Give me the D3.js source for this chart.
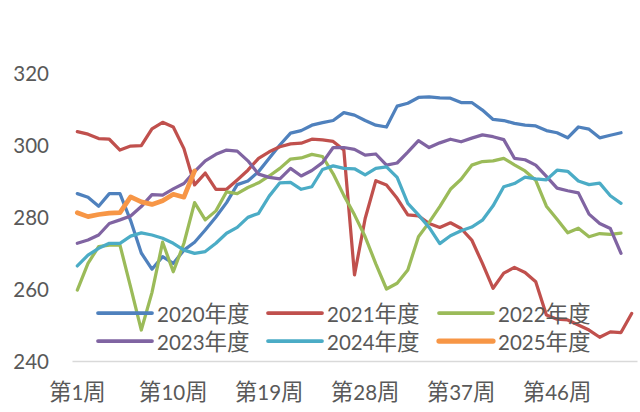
<!DOCTYPE html>
<html>
<head>
<meta charset="utf-8">
<script src="https://cdn.jsdelivr.net/npm/d3@7/dist/d3.min.js"></script>
<style>
  html, body { margin: 0; padding: 0; background: #ffffff; }
  svg { display: block; }
</style>
</head>
<body>
<svg id="chart" width="640" height="412"></svg>
<script>
// Weekly categories 第1周 … 第53周
const weeks = d3.range(1, 54);
const tickWeeks = [1, 10, 19, 28, 37, 46];
const tickLabels = ["第1周", "第10周", "第19周", "第28周", "第37周", "第46周"];
const yTicks = [240, 260, 280, 300, 320];

const seriesNames = ["2020年度", "2021年度", "2022年度", "2023年度", "2024年度", "2025年度"];
const seriesColors = ["#4F81BD", "#C0504D", "#9BBB59", "#8064A2", "#4BACC6", "#F79646"];

const v2020 = [286.5, 285.5, 283, 286.5, 286.5, 279, 270, 265.5, 269, 267.1,
  270.8, 273, 276.4, 280, 284, 289, 290, 292.6, 296.3, 300,
  303.3, 304, 305.5, 306.2, 306.8, 309, 308.3, 306.8, 305.5, 305,
  310.8, 311.6, 313.2, 313.4, 313.1, 313, 311.8, 311.8, 309.7, 307.1,
  306.8, 306, 305.5, 305.3, 304, 303.4, 302, 305, 304.4, 302,
  302.7, 303.4];
const v2021 = [303.7, 303, 301.8, 301.6, 298.6, 299.7, 299.8, 304.5, 306.3, 305,
  299, 288.9, 292.2, 287.7, 287.7, 290.3, 293, 296.3, 298.1, 299.5,
  300.3, 300.5, 301.6, 301.4, 301, 298.6, 263.9, 279.6, 290.1, 288.9,
  285.2, 280.6, 280.3, 278.2, 277.1, 278.4, 276.8, 273.6, 267.1, 260.2,
  264.4, 266, 264.6, 262, 252.8, 251.6, 251.4, 250, 248.6, 246.6,
  248.1, 247.9, 253.2];
const v2022 = [259.7, 267.1, 271.8, 272.2, 272.2, 260.5, 248.6, 259, 273, 264.8,
  272.7, 284, 279.2, 281.7, 287, 286.5, 288.2, 289.5, 291.4, 293.5,
  296.1, 296.4, 297.4, 296.8, 292, 286, 280.6, 274.5, 267, 260,
  261.6, 265.3, 274.5, 278.5, 282.9, 287.7, 290.5, 294.4, 295.4, 295.6,
  296.3, 294.5, 292.8, 290.2, 283, 279.4, 275.6, 276.9, 274.5, 275.4,
  275.2, 275.5];
const v2023 = [272.7, 273.6, 275, 278.2, 279.2, 280.3, 282.9, 286.2, 286.1, 287.8,
  289.3, 292.6, 295.6, 297.4, 298.6, 298.3, 295.6, 291.9, 291, 290.6,
  293.5, 291.4, 292.9, 295.1, 299.3, 299.3, 298.8, 297.2, 297.5, 294.4,
  295, 298, 301.2, 299.3, 300.6, 301.6, 300.9, 301.9, 302.8, 302.3,
  301.5, 296.3, 295.9, 294.4, 291.3, 288, 287.3, 286.7, 280.8, 278.2,
  276.8, 269.9];
const v2024 = [266.4, 269.4, 271.3, 272.7, 272.7, 274.7, 275.6, 275, 274.1, 272.7,
  270.8, 269.9, 270.4, 272.7, 275.5, 277.1, 279.9, 281, 285.8, 289.5,
  289.6, 287.7, 288.4, 293.2, 294.2, 293.5, 293.4, 291.7, 293.5, 293.9,
  291, 283.8, 280.6, 277.1, 272.6, 274.8, 276.2, 277.2, 279.1, 283.1,
  288.4, 289.3, 291.1, 290.6, 290.3, 293, 292.7, 290, 289, 289.4,
  285.9, 283.8];
const v2025 = [281.2, 280.1, 280.7, 281.1, 281.2, 285.6, 284.2, 283.5, 284.5, 286.3,
  285.5, 292.8];

const seriesValues = [v2020, v2021, v2022, v2023, v2024, v2025];
const seriesWidths = [3.25, 3.25, 3.25, 3.25, 3.25, 4.75];

const svg = d3.select("#chart");
const plot = { left: 72, right: 637, top: 73, bottom: 361 };

const x = d3.scaleBand().domain(weeks).range([plot.left, plot.right]).paddingInner(0).paddingOuter(0);
const y = d3.scaleLinear().domain([240, 320]).range([plot.bottom, plot.top]);
const cx = w => x(w) + x.bandwidth() / 2;

const textColor = "#595959";
const latinFont = "Lato, 'Liberation Sans', sans-serif";
const cjkFont = "'Noto Sans CJK SC', 'Noto Sans', sans-serif";

// Split a label into Latin and CJK runs so each uses its own face and size
function mixedText(sel, latinSize, cjkSize) {
  sel.each(function () {
    const t = d3.select(this);
    const s = t.text();
    t.text(null);
    (s.match(/[\u3000-\u9fff]+|[^\u3000-\u9fff]+/g) || []).forEach(run => {
      const isCjk = /[\u3000-\u9fff]/.test(run);
      t.append("tspan")
        .attr("font-family", isCjk ? cjkFont : latinFont)
        .attr("font-size", isCjk ? cjkSize : latinSize)
        .text(run);
    });
  });
}

// Y axis: labels only
const yAxis = svg.append("g")
  .attr("transform", `translate(${plot.left},0)`)
  .call(d3.axisLeft(y).tickValues(yTicks).tickSize(0).tickPadding(23).tickFormat(d3.format("d")));
yAxis.select(".domain").remove();
yAxis.selectAll("text")
  .attr("fill", textColor)
  .attr("font-family", latinFont)
  .attr("font-size", 20.5)
  .attr("dy", null)
  .attr("y", 7.5);

// X axis: baseline plus week labels
const xAxis = svg.append("g")
  .attr("transform", `translate(0,${plot.bottom})`)
  .call(d3.axisBottom(x).tickValues(tickWeeks).tickSize(0).tickSizeOuter(0)
    .tickFormat((d, i) => tickLabels[i]));
xAxis.select(".domain").attr("stroke", "#d9d9d9").attr("stroke-width", 1.5);
xAxis.selectAll("text")
  .attr("fill", textColor)
  .attr("dy", null)
  .attr("y", 39)
  .call(mixedText, 20.5, 22.5);

// Series lines
const line = d3.line().x((d, i) => cx(weeks[i])).y(d => y(d));
svg.append("g").selectAll("path")
  .data(seriesValues)
  .join("path")
  .attr("d", d => line(d))
  .attr("fill", "none")
  .attr("stroke", (d, i) => seriesColors[i])
  .attr("stroke-width", (d, i) => seriesWidths[i])
  .attr("stroke-linejoin", "round")
  .attr("stroke-linecap", "round");

// Legend: three columns, two rows
const legendCols = [98, 268, 439];
const legendRows = [313, 341];
const legend = svg.append("g").selectAll("g")
  .data(seriesNames)
  .join("g")
  .attr("transform", (d, i) => `translate(${legendCols[i % 3]},${legendRows[Math.floor(i / 3)]})`);
legend.append("line")
  .attr("x1", 0).attr("x2", 54).attr("y1", 0).attr("y2", 0)
  .attr("stroke", (d, i) => seriesColors[i])
  .attr("stroke-width", (d, i) => seriesWidths[i] + 0.5)
  .attr("stroke-linecap", "round");
legend.append("text")
  .attr("x", 59).attr("y", 9)
  .attr("fill", textColor)
  .text(d => d)
  .call(mixedText, 20.5, 22.5);
</script>
</body>
</html>
